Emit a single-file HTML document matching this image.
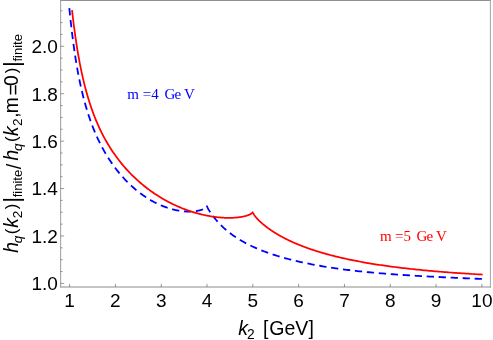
<!DOCTYPE html>
<html><head><meta charset="utf-8"><title>plot</title>
<style>html,body{margin:0;padding:0;background:#fff;}svg{display:block;}</style></head>
<body>
<svg width="493" height="340" viewBox="0 0 493 340" style="will-change:transform">
<rect width="493" height="340" fill="#fff"/>
<g fill="none" stroke="#0000ff" stroke-width="1.8" stroke-dasharray="7.3 4.7"><path d="M69.32 8.08L70.58 20.34L71.83 31.32L73.07 41.22L74.31 50.17L75.54 58.30L76.76 65.73L77.98 72.54L79.20 78.81L80.41 84.61L81.61 89.98L82.81 94.97L84.00 99.63L85.19 103.99L86.37 108.09L87.54 111.94L88.71 115.58L89.87 119.01L91.03 122.27L92.18 125.36L93.33 128.30L94.47 131.11L95.60 133.78L96.73 136.34L97.85 138.79L98.97 141.14L100.08 143.39L101.18 145.55L102.28 147.64L103.38 149.64L104.47 151.57L105.55 153.44L106.63 155.24L107.70 156.98L108.76 158.66L109.82 160.28L110.87 161.86L111.92 163.38L112.97 164.86L114.00 166.29L115.03 167.68L116.06 169.03L117.08 170.34L118.09 171.61L119.10 172.84L120.10 174.04L121.10 175.21L122.09 176.34L123.07 177.44L124.05 178.51L125.02 179.55L125.99 180.57L126.95 181.55L127.91 182.51L128.86 183.45L129.80 184.36L130.74 185.24L131.68 186.10L132.60 186.94L133.53 187.76L134.44 188.55L135.35 189.33L136.26 190.08L137.16 190.81L138.05 191.53L138.94 192.22L139.82 192.90L140.69 193.56L141.56 194.20L142.43 194.82L143.29 195.43L144.14 196.02L144.99 196.60L145.83 197.15L146.66 197.70L147.49 198.23L148.32 198.74L149.13 199.24L149.95 199.73L150.75 200.20L151.55 200.66L152.35 201.11L153.14 201.54L153.92 201.97L154.70 202.37L155.47 202.77L156.24 203.16L157.00 203.53L157.76 203.89L158.51 204.24L159.25 204.59L159.99 204.92L160.72 205.24L161.45 205.54L162.17 205.84L162.88 206.13L163.59 206.41L164.29 206.68L164.99 206.95L165.68 207.20L166.37 207.44L167.05 207.68L167.73 207.90L168.39 208.12L169.06 208.33L169.72 208.53L170.37 208.73L171.01 208.91L171.65 209.09L172.29 209.26L172.92 209.42L173.54 209.58L174.16 209.73L174.77 209.87L175.37 210.01L175.97 210.14L176.57 210.26L177.16 210.38L177.74 210.49L178.32 210.59L178.89 210.69L179.45 210.78L180.01 210.87L180.57 210.95L181.12 211.03L181.66 211.10L182.20 211.16L182.73 211.22L183.25 211.28L183.77 211.32L184.29 211.37L184.80 211.41L185.30 211.44L185.79 211.48L186.29 211.50L186.77 211.52L187.25 211.54L187.72 211.56L188.19 211.56L188.65 211.57L189.11 211.57L189.56 211.57L190.01 211.56L190.45 211.55L190.88 211.54L191.31 211.52L191.73 211.51L192.15 211.48L192.56 211.46L192.96 211.43L193.36 211.39L193.75 211.36L194.14 211.32L194.52 211.28L194.90 211.24L195.27 211.19L195.63 211.14L195.99 211.09L196.35 211.04L196.69 210.98L197.04 210.92L197.37 210.86L197.70 210.80L198.03 210.73L198.34 210.67L198.66 210.60L198.96 210.53L199.27 210.46L199.56 210.38L199.85 210.31L200.14 210.23L200.41 210.15L200.69 210.07L200.95 209.99L201.22 209.91L201.47 209.83L201.72 209.74L201.97 209.66L202.20 209.57L202.44 209.48L202.66 209.39L202.88 209.30L203.10 209.21L203.31 209.12L203.51 209.03L203.71 208.94L203.90 208.84L204.09 208.75L204.27 208.66L204.45 208.56L204.62 208.47L204.78 208.37L204.94 208.28L205.09 208.18L205.24 208.08L205.38 207.99L205.51 207.89L205.64 207.80L205.76 207.70L205.88 207.61L205.99 207.51L206.10 207.42L206.20 207.32L206.29 207.23L206.38 207.13L206.47 207.04L206.54 206.95L206.62 206.85L206.68 206.76L206.74 206.67L206.80 206.58L206.85 206.49L206.89 206.40L206.93 206.31L206.96 206.22L206.98 206.14L207.00 206.05L207.02 205.97L207.03 205.88L207.03 205.80"/><path d="M207.03 205.80L207.04 205.95L207.05 206.10L207.08 206.26L207.12 206.44L207.17 206.62L207.24 206.82L207.31 207.02L207.40 207.24L207.49 207.46L207.60 207.70L207.72 207.96L207.86 208.22L208.00 208.49L208.15 208.78L208.32 209.08L208.50 209.39L208.69 209.72L208.89 210.05L209.10 210.40L209.32 210.76L209.56 211.13L209.81 211.52L210.06 211.91L210.33 212.32L210.61 212.73L210.91 213.16L211.21 213.60L211.53 214.04L211.85 214.50L212.19 214.96L212.54 215.44L212.90 215.92L213.28 216.41L213.66 216.90L214.06 217.41L214.46 217.92L214.88 218.44L215.31 218.96L215.75 219.49L216.21 220.02L216.67 220.56L217.15 221.11L217.63 221.65L218.13 222.21L218.64 222.76L219.17 223.32L219.70 223.88L220.24 224.44L220.80 225.01L221.37 225.57L221.95 226.14L222.54 226.71L223.14 227.28L223.75 227.85L224.38 228.41L225.02 228.98L225.66 229.55L226.32 230.12L226.99 230.69L227.68 231.25L228.37 231.82L229.08 232.38L229.79 232.94L230.52 233.50L231.26 234.06L232.01 234.61L232.78 235.17L233.55 235.72L234.34 236.26L235.13 236.81L235.94 237.35L236.76 237.89L237.59 238.42L238.44 238.96L239.29 239.48L240.16 240.01L241.03 240.53L241.92 241.05L242.82 241.56L243.74 242.07L244.66 242.58L245.59 243.09L246.54 243.59L247.50 244.08L248.47 244.57L249.45 245.06L250.44 245.55L251.44 246.03L252.46 246.50L253.49 246.98L254.52 247.44L255.57 247.91L256.63 248.37L257.71 248.83L258.79 249.28L259.89 249.73L260.99 250.17L262.11 250.62L263.24 251.05L264.38 251.49L265.54 251.92L266.70 252.34L267.88 252.76L269.06 253.18L270.26 253.60L271.47 254.01L272.69 254.41L273.93 254.82L275.17 255.22L276.43 255.61L277.69 256.00L278.97 256.39L280.26 256.78L281.57 257.16L282.88 257.53L284.20 257.90L285.54 258.27L286.89 258.64L288.25 259.00L289.62 259.36L291.00 259.71L292.39 260.06L293.80 260.41L295.22 260.75L296.64 261.09L298.08 261.43L299.53 261.76L301.00 262.09L302.47 262.41L303.96 262.73L305.45 263.05L306.96 263.36L308.48 263.67L310.01 263.98L311.56 264.28L313.11 264.58L314.68 264.87L316.25 265.16L317.84 265.45L319.44 265.73L321.05 266.01L322.68 266.29L324.31 266.56L325.96 266.83L327.61 267.10L329.28 267.36L330.96 267.62L332.66 267.87L334.36 268.12L336.07 268.37L337.80 268.61L339.54 268.86L341.29 269.09L343.05 269.33L344.82 269.56L346.60 269.78L348.40 270.01L350.21 270.22L352.02 270.44L353.85 270.65L355.69 270.86L357.55 271.07L359.41 271.27L361.29 271.47L363.17 271.67L365.07 271.86L366.98 272.05L368.90 272.24L370.84 272.43L372.78 272.61L374.74 272.78L376.70 272.96L378.68 273.13L380.67 273.30L382.67 273.47L384.69 273.63L386.71 273.79L388.75 273.95L390.79 274.11L392.85 274.26L394.92 274.41L397.01 274.56L399.10 274.71L401.20 274.85L403.32 275.00L405.45 275.14L407.59 275.27L409.74 275.41L411.90 275.54L414.07 275.67L416.26 275.80L418.46 275.93L420.66 276.06L422.88 276.18L425.11 276.31L427.36 276.43L429.61 276.55L431.88 276.67L434.15 276.78L436.44 276.90L438.74 277.02L441.05 277.13L443.38 277.24L445.71 277.36L448.06 277.47L450.41 277.58L452.78 277.69L455.16 277.80L457.55 277.91L459.96 278.01L462.37 278.12L464.80 278.23L467.23 278.34L469.68 278.45L472.14 278.55L474.62 278.66L477.10 278.77L479.59 278.88L482.10 278.98"/></g>
<path d="M72.01 10.10L73.66 24.00L75.30 36.21L76.93 47.02L78.55 56.65L80.17 65.29L81.78 73.09L83.38 80.17L84.98 86.64L86.57 92.56L88.15 98.02L89.72 103.07L91.28 107.76L92.84 112.13L94.39 116.23L95.93 120.07L97.47 123.68L98.99 127.09L100.51 130.32L102.02 133.38L103.53 136.29L105.03 139.06L106.52 141.71L108.00 144.23L109.47 146.65L110.94 148.96L112.40 151.18L113.85 153.32L115.29 155.37L116.73 157.35L118.16 159.25L119.58 161.09L120.99 162.86L122.40 164.57L123.80 166.23L125.19 167.83L126.57 169.38L127.95 170.88L129.32 172.33L130.68 173.74L132.03 175.11L133.38 176.43L134.72 177.72L136.05 178.97L137.37 180.18L138.69 181.36L140.00 182.50L141.30 183.61L142.59 184.69L143.88 185.74L145.15 186.76L146.42 187.76L147.69 188.72L148.94 189.66L150.19 190.58L151.43 191.47L152.66 192.33L153.89 193.17L155.11 193.99L156.32 194.79L157.52 195.56L158.72 196.32L159.90 197.05L161.08 197.77L162.26 198.47L163.42 199.14L164.58 199.80L165.73 200.44L166.87 201.07L168.01 201.68L169.13 202.27L170.25 202.84L171.37 203.40L172.47 203.94L173.57 204.47L174.66 204.99L175.74 205.49L176.81 205.97L177.88 206.45L178.94 206.91L179.99 207.35L181.04 207.78L182.07 208.21L183.10 208.61L184.12 209.01L185.14 209.40L186.15 209.77L187.14 210.13L188.14 210.48L189.12 210.82L190.10 211.15L191.07 211.47L192.03 211.78L192.98 212.08L193.93 212.37L194.87 212.65L195.80 212.92L196.72 213.18L197.64 213.44L198.55 213.68L199.45 213.91L200.34 214.14L201.23 214.36L202.11 214.57L202.98 214.77L203.84 214.97L204.70 215.15L205.54 215.33L206.39 215.51L207.22 215.67L208.04 215.83L208.86 215.98L209.67 216.12L210.48 216.26L211.27 216.39L212.06 216.52L212.84 216.63L213.61 216.75L214.38 216.85L215.14 216.95L215.89 217.04L216.63 217.13L217.36 217.22L218.09 217.29L218.81 217.36L219.52 217.43L220.23 217.49L220.93 217.55L221.62 217.60L222.30 217.65L222.97 217.69L223.64 217.72L224.30 217.76L224.95 217.79L225.60 217.81L226.24 217.83L226.87 217.84L227.49 217.85L228.10 217.86L228.71 217.86L229.31 217.86L229.90 217.86L230.49 217.85L231.06 217.84L231.63 217.82L232.19 217.80L232.75 217.78L233.29 217.75L233.83 217.73L234.37 217.69L234.89 217.66L235.41 217.62L235.91 217.58L236.42 217.54L236.91 217.49L237.40 217.44L237.88 217.39L238.35 217.33L238.81 217.28L239.27 217.22L239.72 217.16L240.16 217.09L240.59 217.02L241.02 216.96L241.43 216.89L241.85 216.81L242.25 216.74L242.64 216.66L243.03 216.58L243.41 216.50L243.79 216.42L244.15 216.34L244.51 216.25L244.86 216.17L245.20 216.08L245.54 215.99L245.87 215.90L246.19 215.80L246.50 215.71L246.81 215.62L247.11 215.52L247.40 215.42L247.68 215.32L247.95 215.23L248.22 215.13L248.48 215.02L248.73 214.92L248.98 214.82L249.22 214.72L249.45 214.61L249.67 214.51L249.88 214.40L250.09 214.30L250.29 214.19L250.48 214.08L250.67 213.98L250.85 213.87L251.02 213.76L251.18 213.65L251.33 213.54L251.48 213.44L251.62 213.33L251.75 213.22L251.87 213.11L251.99 213.00L252.10 212.89L252.20 212.78L252.30 212.68L252.38 212.57L252.46 212.46L252.53 212.35L252.60 212.24L252.66 212.14L252.70 212.03L252.75 211.92L252.78 211.82L252.81 211.71L252.82 211.61L252.84 211.50L252.84 211.40L252.84 211.57L252.86 211.75L252.88 211.93L252.92 212.11L252.96 212.30L253.01 212.50L253.07 212.70L253.15 212.90L253.23 213.11L253.32 213.32L253.42 213.54L253.53 213.77L253.65 214.00L253.78 214.23L253.92 214.47L254.07 214.71L254.22 214.96L254.39 215.22L254.57 215.47L254.76 215.74L254.95 216.01L255.16 216.28L255.37 216.56L255.60 216.84L255.83 217.13L256.08 217.43L256.33 217.72L256.60 218.03L256.87 218.33L257.15 218.64L257.44 218.96L257.75 219.28L258.06 219.60L258.38 219.93L258.71 220.27L259.05 220.60L259.40 220.94L259.76 221.29L260.13 221.63L260.50 221.98L260.89 222.34L261.29 222.70L261.70 223.06L262.11 223.42L262.54 223.79L262.98 224.16L263.42 224.53L263.88 224.91L264.34 225.28L264.82 225.67L265.30 226.05L265.79 226.43L266.30 226.82L266.81 227.21L267.33 227.60L267.86 227.99L268.40 228.39L268.96 228.78L269.52 229.18L270.09 229.58L270.67 229.98L271.25 230.38L271.85 230.78L272.46 231.18L273.08 231.58L273.71 231.99L274.34 232.39L274.99 232.80L275.65 233.20L276.31 233.61L276.99 234.01L277.67 234.42L278.37 234.83L279.07 235.23L279.79 235.64L280.51 236.04L281.24 236.45L281.99 236.85L282.74 237.26L283.50 237.66L284.27 238.07L285.05 238.47L285.84 238.87L286.64 239.27L287.45 239.67L288.27 240.07L289.10 240.47L289.94 240.86L290.79 241.26L291.64 241.65L292.51 242.05L293.39 242.44L294.27 242.83L295.17 243.22L296.07 243.61L296.99 243.99L297.91 244.38L298.85 244.76L299.79 245.14L300.75 245.52L301.71 245.90L302.68 246.28L303.66 246.65L304.65 247.02L305.66 247.39L306.67 247.76L307.69 248.13L308.72 248.49L309.76 248.86L310.81 249.22L311.86 249.58L312.93 249.93L314.01 250.29L315.10 250.64L316.20 250.99L317.30 251.34L318.42 251.68L319.54 252.03L320.68 252.37L321.82 252.71L322.98 253.04L324.14 253.38L325.32 253.71L326.50 254.04L327.69 254.37L328.89 254.69L330.11 255.02L331.33 255.34L332.56 255.65L333.80 255.97L335.05 256.28L336.31 256.59L337.58 256.90L338.86 257.21L340.15 257.51L341.45 257.81L342.75 258.11L344.07 258.41L345.40 258.70L346.73 258.99L348.08 259.28L349.44 259.56L350.80 259.85L352.18 260.13L353.56 260.41L354.96 260.68L356.36 260.96L357.77 261.23L359.20 261.50L360.63 261.76L362.07 262.03L363.52 262.29L364.98 262.55L366.45 262.80L367.93 263.06L369.42 263.31L370.92 263.56L372.43 263.81L373.95 264.05L375.48 264.29L377.02 264.53L378.56 264.77L380.12 265.00L381.69 265.23L383.26 265.46L384.85 265.69L386.44 265.91L388.05 266.14L389.66 266.36L391.29 266.57L392.92 266.79L394.56 267.00L396.22 267.21L397.88 267.42L399.55 267.63L401.23 267.83L402.92 268.03L404.62 268.23L406.33 268.43L408.05 268.62L409.78 268.81L411.52 269.00L413.27 269.19L415.03 269.38L416.80 269.56L418.57 269.74L420.36 269.92L422.16 270.10L423.96 270.27L425.78 270.44L427.60 270.61L429.44 270.78L431.28 270.95L433.14 271.11L435.00 271.28L436.87 271.44L438.76 271.59L440.65 271.75L442.55 271.90L444.46 272.06L446.38 272.21L448.31 272.36L450.25 272.50L452.20 272.65L454.16 272.79L456.13 272.93L458.11 273.07L460.10 273.21L462.10 273.34L464.10 273.48L466.12 273.61L468.15 273.74L470.18 273.87L472.23 274.00L474.28 274.12L476.35 274.25L478.42 274.37L480.51 274.49L482.60 274.61" fill="none" stroke="#ff0000" stroke-width="1.75" stroke-linejoin="miter"/>
<g fill="none" stroke-width="1" stroke-linecap="square">
<path d="M60.65 0.50H490.40" stroke="#919191"/>
<path d="M60.65 287.00H490.40" stroke="#8c8c8c"/>
<path d="M60.65 0.50V287.00" stroke="#9c9c9c"/>
<path d="M490.40 0.50V287.00" stroke="#a4a4a4"/>
</g>
<path d="M69.60 287.00v-3.1M115.41 287.00v-3.1M161.22 287.00v-3.1M207.03 287.00v-3.1M252.84 287.00v-3.1M298.65 287.00v-3.1M344.46 287.00v-3.1M390.27 287.00v-3.1M436.08 287.00v-3.1M481.89 287.00v-3.1M60.65 283.40h3.5M60.65 271.54h1.9M60.65 259.69h1.9M60.65 247.84h1.9M60.65 235.98h3.5M60.65 224.12h1.9M60.65 212.27h1.9M60.65 200.41h1.9M60.65 188.56h3.5M60.65 176.70h1.9M60.65 164.85h1.9M60.65 152.99h1.9M60.65 141.14h3.5M60.65 129.28h1.9M60.65 117.43h1.9M60.65 105.57h1.9M60.65 93.72h3.5M60.65 81.86h1.9M60.65 70.01h1.9M60.65 58.15h1.9M60.65 46.30h3.5M60.65 34.45h1.9M60.65 22.59h1.9M60.65 10.73h1.9" fill="none" stroke="#606060" stroke-width="0.65"/>
<g font-family="Liberation Sans, sans-serif" font-size="19" fill="#000">
<text x="69.60" y="307.3" text-anchor="middle">1</text>
<text x="115.41" y="307.3" text-anchor="middle">2</text>
<text x="161.22" y="307.3" text-anchor="middle">3</text>
<text x="207.03" y="307.3" text-anchor="middle">4</text>
<text x="252.84" y="307.3" text-anchor="middle">5</text>
<text x="298.65" y="307.3" text-anchor="middle">6</text>
<text x="344.46" y="307.3" text-anchor="middle">7</text>
<text x="390.27" y="307.3" text-anchor="middle">8</text>
<text x="436.08" y="307.3" text-anchor="middle">9</text>
<text x="481.89" y="307.3" text-anchor="middle">10</text>
<text x="57.8" y="290.30" text-anchor="end">1.0</text>
<text x="57.8" y="242.88" text-anchor="end">1.2</text>
<text x="57.8" y="195.46" text-anchor="end">1.4</text>
<text x="57.8" y="148.04" text-anchor="end">1.6</text>
<text x="57.8" y="100.62" text-anchor="end">1.8</text>
<text x="57.8" y="53.20" text-anchor="end">2.0</text>
</g>
<g font-family="Liberation Sans, sans-serif" font-size="19.5" fill="#000">
<text x="238.2" y="334.8" font-style="italic">k</text>
<text x="246.9" y="338.9" font-size="13.8">2</text>
<text x="262.9" y="334.8">[</text>
<text x="269.3" y="334.8">GeV</text>
<text x="308.6" y="334.8">]</text>
</g>
<g font-family="Liberation Serif, serif" font-size="15" fill="#0000ff"><text x="127.15" y="98.70">m</text><text x="142.75" y="98.70">=</text><text x="151.25" y="98.70">4</text><text x="164.40" y="98.70">G</text><text x="174.55" y="98.70">e</text><text x="183.95" y="98.70">V</text></g>
<g font-family="Liberation Serif, serif" font-size="15" fill="#ff0000"><text x="379.95" y="241.40">m</text><text x="395.10" y="241.40">=</text><text x="403.60" y="241.40">5</text><text x="416.55" y="241.40">G</text><text x="426.50" y="241.40">e</text><text x="436.05" y="241.40">V</text></g>
<g transform="translate(18.3 252.2) rotate(-90)" font-family="Liberation Sans, sans-serif" font-size="19.3" fill="#000">
<text x="-0.65" y="0.00" font-style="italic">h</text>
<text x="8.90" y="3.50" font-style="italic" font-size="13.6">q</text>
<text x="18.00" y="-1.10" font-size="16.8">(</text>
<text x="24.40" y="0.00" font-style="italic">k</text>
<text x="34.00" y="3.50" font-size="13.6">2</text>
<text x="43.00" y="-1.10" font-size="16.8">)</text>
<text x="49.50" y="0.90" font-size="22.5">|</text>
<text x="54.90" y="3.50" font-size="13.0">finite</text>
<text x="82.95" y="2.50" font-size="20.0">/</text>
<text x="91.80" y="0.00" font-style="italic">h</text>
<text x="101.10" y="3.50" font-style="italic" font-size="13.6">q</text>
<text x="110.25" y="-1.10" font-size="16.8">(</text>
<text x="116.20" y="0.00" font-style="italic">k</text>
<text x="126.20" y="3.50" font-size="13.6">2</text>
<text x="134.45" y="0.00">,</text>
<text x="138.95" y="0.00">m</text>
<text x="156.75" y="1.30">=</text>
<text x="166.30" y="0.00">0</text>
<text x="178.85" y="-1.10" font-size="16.8">)</text>
<text x="185.30" y="0.90" font-size="22.5">|</text>
<text x="190.70" y="3.50" font-size="13.0">finite</text>
</g>
</svg>
</body></html>
